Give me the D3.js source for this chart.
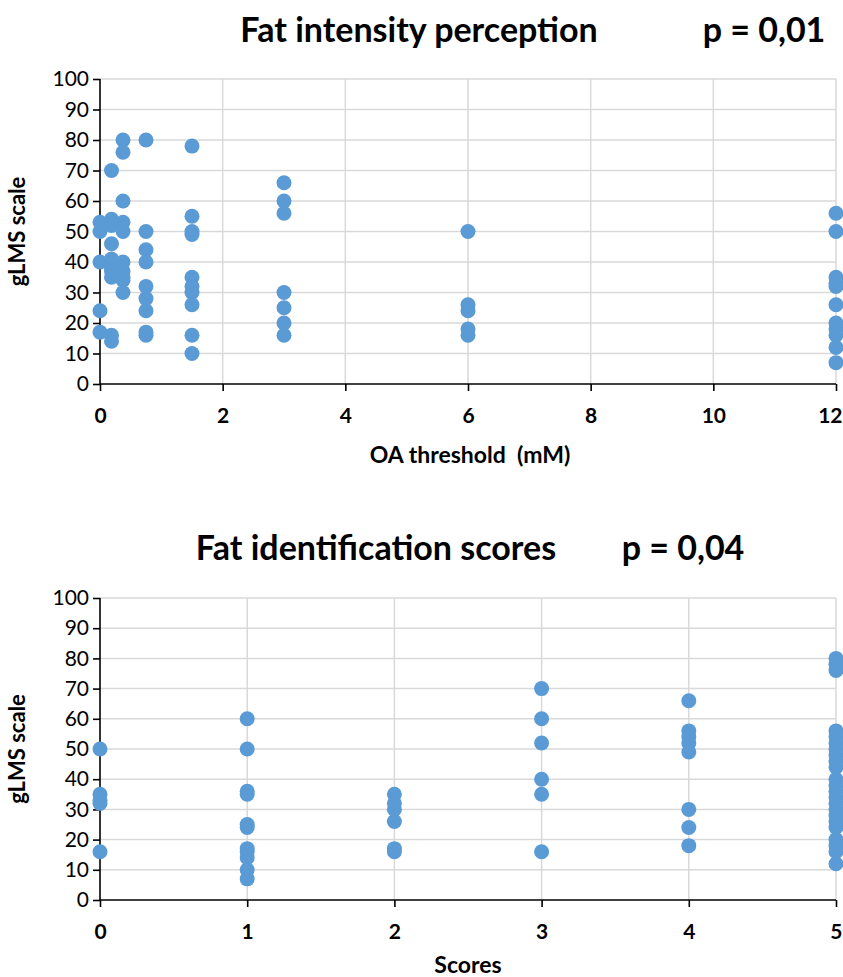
<!DOCTYPE html>
<html>
<head>
<meta charset="utf-8">
<script src="https://cdn.jsdelivr.net/npm/d3@7/dist/d3.min.js"></script>
<style>
  html, body { margin: 0; padding: 0; background: #fff; }
  svg { display: block; font-family: Lato, "Open Sans", sans-serif; }
</style>
</head>
<body>
<svg id="chart" width="843" height="977"></svg>
<script>
// --- Panel 1: fat intensity (gLMS) vs OA threshold (mM) ---
const oaThresholds = [0, 0.1875, 0.375, 0.75, 1.5, 3, 6, 12];
const oaIntensity = [
  [53, 50, 40, 24, 17],
  [70, 54, 52, 46, 41, 38, 37, 35, 16, 14],
  [80, 76, 60, 53, 50, 40, 37, 35, 34, 30],
  [80, 50, 44, 40, 32, 28, 24, 17, 16],
  [78, 55, 50, 49, 35, 32, 30, 26, 16, 10],
  [66, 60, 56, 30, 25, 20, 16],
  [50, 26, 24, 18, 16],
  [56, 50, 35, 33, 32, 26, 20, 18, 16, 12, 7]
];
const oaTicks = [0, 2, 4, 6, 8, 10, 12];

// --- Panel 2: fat intensity (gLMS) vs fat identification score ---
const scores = [0, 1, 2, 3, 4, 5];
const scoreIntensity = [
  [50, 35, 33, 32, 16],
  [60, 50, 36, 35, 25, 24, 17, 16, 14, 10, 7],
  [35, 32, 30, 26, 17, 16],
  [70, 60, 52, 40, 35, 16],
  [66, 56, 54, 52, 49, 30, 24, 18],
  [80, 78, 76, 56, 54, 52, 50, 48, 46, 44, 40, 38, 36, 34, 32, 30, 28, 26, 24, 20, 18, 16, 12]
];
const scoreTicks = [0, 1, 2, 3, 4, 5];

const gLMSTicks = [0, 10, 20, 30, 40, 50, 60, 70, 80, 90, 100];

const svg = d3.select("#chart");
const BLUE = "#5B9BD5";
const GRID = "#d9d9d9";
const WIDTH = 843;

function drawPanel(cfg) {
  const g = svg.append("g");
  const x = d3.scaleLinear().domain(cfg.xDomain).range([cfg.left, cfg.right]);
  const y = d3.scaleLinear().domain([0, 100]).range([cfg.bottom, cfg.top]);

  // gridlines
  g.append("g").selectAll("line").data(gLMSTicks.filter(d => d > 0)).join("line")
    .attr("x1", cfg.left).attr("x2", cfg.right)
    .attr("y1", d => y(d)).attr("y2", d => y(d))
    .attr("stroke", GRID).attr("stroke-width", 1.5);
  g.append("g").selectAll("line").data(cfg.xTicks.filter(d => d > cfg.xDomain[0])).join("line")
    .attr("x1", d => x(d)).attr("x2", d => x(d))
    .attr("y1", cfg.top).attr("y2", cfg.bottom)
    .attr("stroke", GRID).attr("stroke-width", 1.5);

  // y axis
  const yAxis = g.append("g").attr("transform", `translate(${cfg.left},0)`)
    .call(d3.axisLeft(y).tickValues(gLMSTicks).tickSize(7).tickPadding(4));
  yAxis.select(".domain").attr("stroke", "#000").attr("stroke-width", 1.6)
    .attr("d", `M0,${cfg.top}V${cfg.bottom}`);
  yAxis.selectAll(".tick line").attr("stroke", "#000").attr("stroke-width", 1.6);
  yAxis.selectAll(".tick text").attr("fill", "#000")
    .style("font-size", "21px").style("font-family", "Lato, sans-serif");

  // x axis
  const xAxis = g.append("g").attr("transform", `translate(0,${cfg.bottom})`)
    .call(d3.axisBottom(x).tickValues(cfg.xTicks).tickFormat(d3.format("d"))
      .tickSize(7).tickPadding(17));
  xAxis.select(".domain").attr("stroke", "#000").attr("stroke-width", 1.6)
    .attr("d", `M${cfg.left},0H${cfg.right}`);
  xAxis.selectAll(".tick line").attr("stroke", "#000").attr("stroke-width", 1.6);
  xAxis.selectAll(".tick text").attr("fill", "#000")
    .style("font-size", "21px").style("font-weight", "bold").style("font-family", "Lato, sans-serif");
  // keep the last tick label inside the page edge
  xAxis.selectAll(".tick text").each(function () {
    const b = this.getBBox();
    const tx = x(d3.select(this.parentNode).datum());
    const overflow = tx + b.x + b.width - (WIDTH - 1);
    if (overflow > 0) d3.select(this).attr("x", -overflow);
  });

  // points
  const pts = [];
  cfg.xs.forEach((xv, i) => cfg.ys[i].forEach(v => pts.push([xv, v])));
  g.append("g").selectAll("circle").data(pts).join("circle")
    .attr("cx", d => x(d[0])).attr("cy", d => y(d[1])).attr("r", 7.5)
    .attr("fill", BLUE);

  // titles
  g.append("text").attr("x", cfg.titleX).attr("y", cfg.titleY)
    .attr("text-anchor", "middle").attr("font-size", 34).attr("font-weight", "bold")
    .text(cfg.title);
  g.append("text").attr("x", cfg.pX).attr("y", cfg.titleY)
    .attr("text-anchor", "middle").attr("font-size", 34).attr("font-weight", "bold")
    .text(cfg.pText);
  g.append("text").attr("x", cfg.xLabelX).attr("y", cfg.xLabelY)
    .attr("text-anchor", "middle").attr("font-size", 23).attr("font-weight", "bold")
    .style("white-space", "pre")
    .text(cfg.xLabel);
  g.append("text")
    .attr("transform", `translate(25,${(cfg.top + cfg.bottom) / 2}) rotate(-90)`)
    .attr("text-anchor", "middle").attr("font-size", 22).attr("font-weight", "bold")
    .text("gLMS scale");
}

drawPanel({
  xDomain: [0, 12], xTicks: oaTicks, xs: oaThresholds, ys: oaIntensity,
  left: 100, right: 836, top: 79, bottom: 384,
  title: "Fat intensity perception", titleX: 419, pText: "p = 0,01", pX: 764, titleY: 42,
  xLabel: "OA threshold  (mM)", xLabelX: 470, xLabelY: 463
});

drawPanel({
  xDomain: [0, 5], xTicks: scoreTicks, xs: scores, ys: scoreIntensity,
  left: 100, right: 836, top: 598, bottom: 900,
  title: "Fat identification scores", titleX: 376, pText: "p = 0,04", pX: 683, titleY: 560,
  xLabel: "Scores", xLabelX: 468, xLabelY: 973
});
</script>
</body>
</html>
